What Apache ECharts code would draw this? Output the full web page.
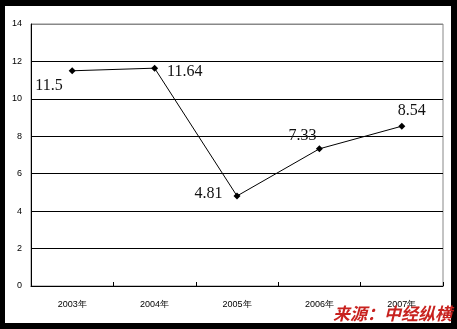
<!DOCTYPE html>
<html><head><meta charset="utf-8">
<script src="https://cdn.jsdelivr.net/npm/echarts@6/dist/echarts.min.js"></script>
<style>html,body{margin:0;padding:0;background:#000}#c{width:457px;height:329px}</style>
</head><body><div id="c"></div>
<script>
const categories = ['2003年', '2004年', '2005年', '2006年', '2007年'];
const values = [11.5, 11.64, 4.81, 7.33, 8.54];
const yTicks = [0, 2, 4, 6, 8, 10, 12, 14];

const labelPos = [
  { position: 'left', offset: [-1, 15] },
  { position: 'right', offset: [4, 4] },
  { position: 'left', offset: [-6, -2] },
  { position: 'top', offset: [-17, 3] },
  { position: 'top', offset: [10, 1] }
];

const chart = echarts.init(document.getElementById('c'));
chart.setOption({
  backgroundColor: '#000',
  animation: false,
  graphic: [
    { type: 'rect', z: -10, shape: { x: 5, y: 6, width: 446, height: 317 }, style: { fill: '#fff' } },
    { type: 'text', z: 100, left: 333, top: 305,
      style: { text: '来源：中经纵横', fill: '#c8221f', font: 'italic bold 17px "Noto Sans CJK SC"' } }
  ],
  grid: { left: 31, top: 24, right: 14, bottom: 43, show: true, borderColor: '#888', borderWidth: 1, backgroundColor: 'transparent' },
  xAxis: {
    type: 'category', data: categories, boundaryGap: true,
    axisLine: { lineStyle: { color: '#000', width: 1 } },
    axisTick: { show: true, inside: true, length: 4, lineStyle: { color: '#000' } },
    axisLabel: { color: '#000', fontSize: 9, fontFamily: 'Liberation Sans', margin: 14 }
  },
  yAxis: {
    type: 'value', min: 0, max: 14, interval: 2,
    axisLine: { show: true, lineStyle: { color: '#000', width: 1 } },
    axisTick: { show: false },
    axisLabel: { color: '#000', fontSize: 9, fontFamily: 'Liberation Sans', margin: 9,
      formatter: v => yTicks.includes(v) ? String(v) : '' },
    splitLine: { show: true, lineStyle: { color: ['#000','#000','#000','#000','#000','#000','#000','#888'], width: 1 } }
  },
  series: [{
    type: 'line',
    data: values.map((v, i) => ({ value: v, label: labelPos[i] })),
    symbol: 'diamond', symbolSize: 7,
    lineStyle: { color: '#000', width: 1 },
    itemStyle: { color: '#000' },
    label: { show: true, color: '#111', fontSize: 16, fontFamily: 'Liberation Serif', distance: 5,
      formatter: p => String(p.value) }
  }]
});
</script></body></html>
